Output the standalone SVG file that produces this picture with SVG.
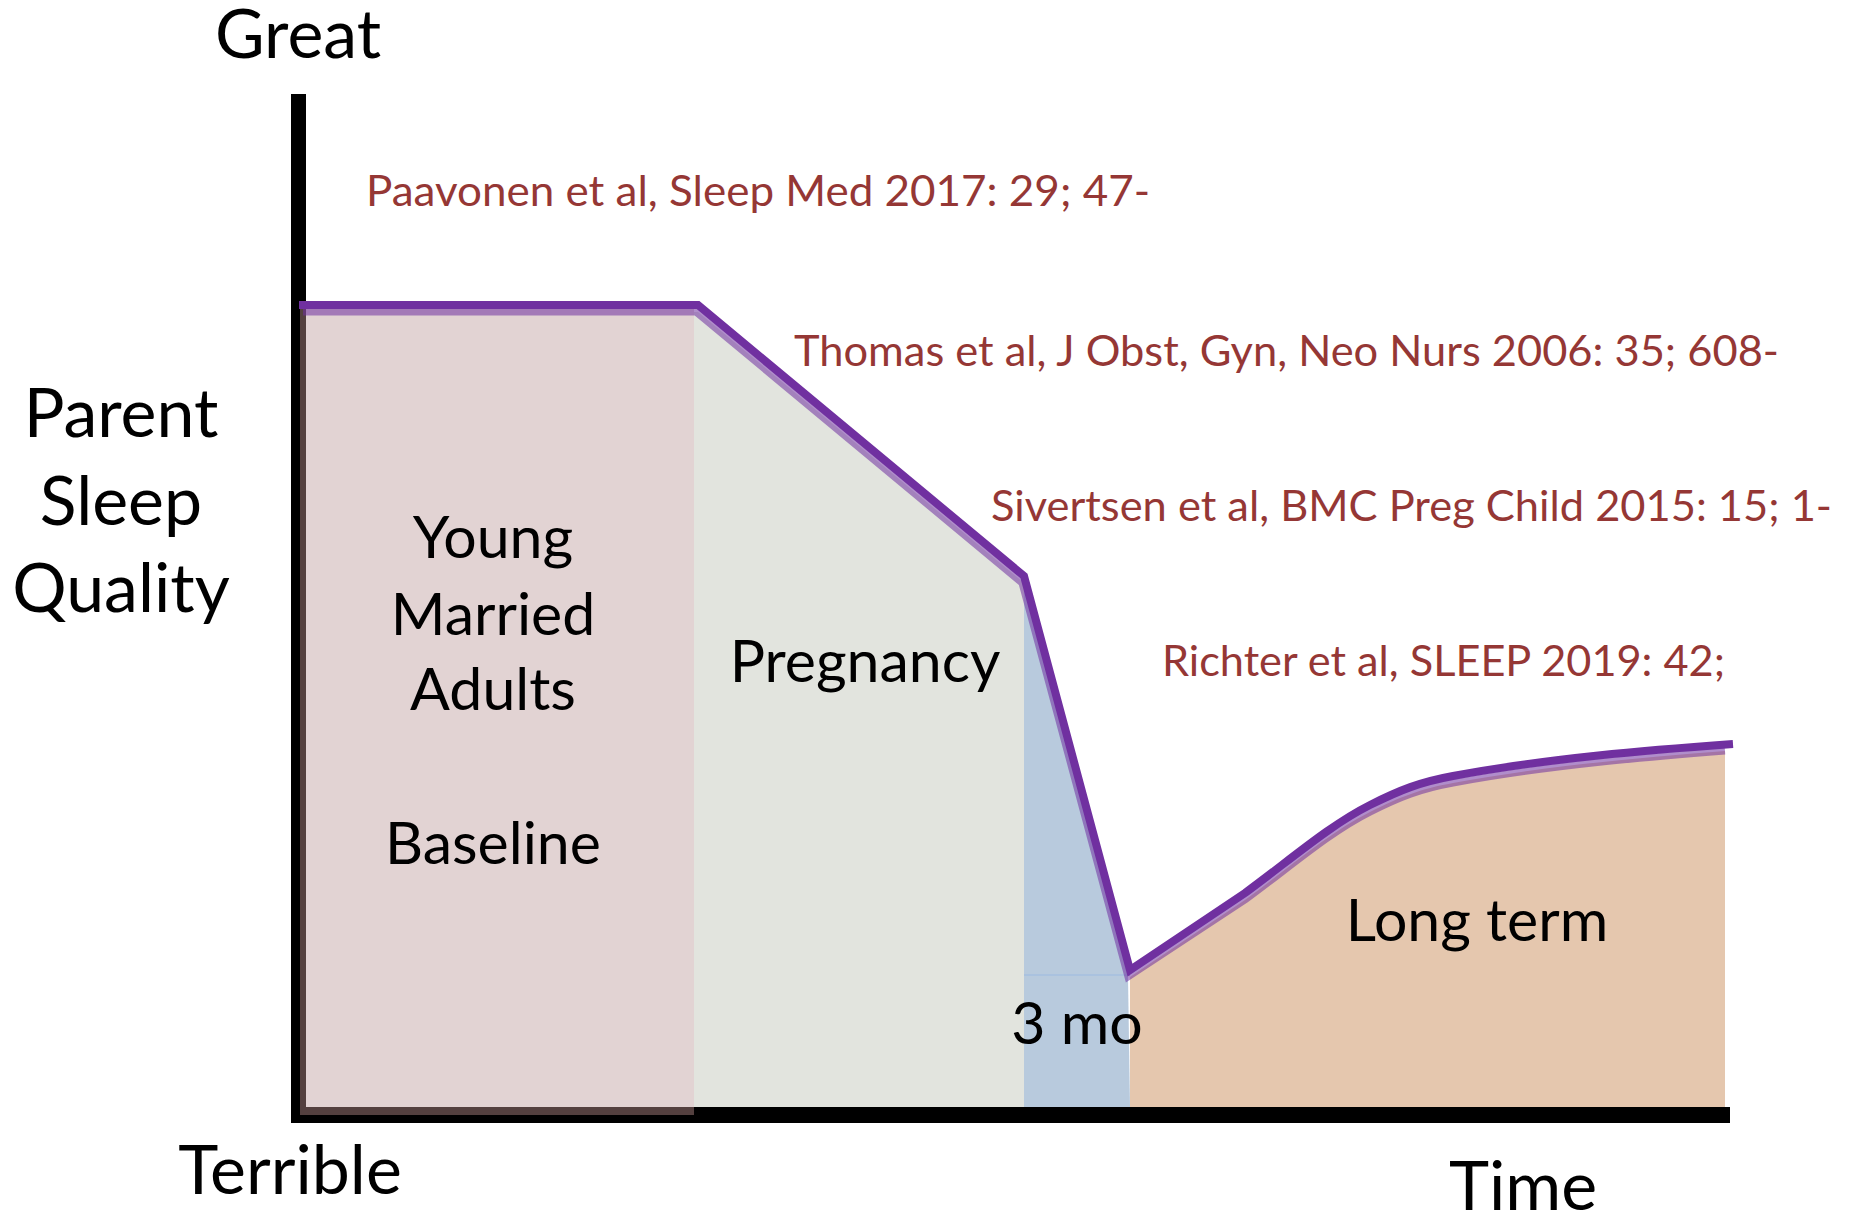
<svg xmlns="http://www.w3.org/2000/svg" width="1850" height="1218" viewBox="0 0 1850 1218">
  <style>
    .lbl { font-family: Lato, "Open Sans", sans-serif; fill: #000; text-anchor: middle; }
    .big { font-size: 68px; }
    .mid { font-size: 59px; }
    .cite { font-family: Lato, "Open Sans", sans-serif; font-size: 42px; fill: #953735; }
    .line { fill: none; stroke: #7030a0; stroke-width: 8; stroke-linejoin: miter; }
    .edge { fill: none; stroke: #7030a0; stroke-opacity: 0.55; stroke-width: 7; }
  </style>
  <rect width="1850" height="1218" fill="#ffffff"/>

  <!-- axes -->
  <g id="axes">
    <rect x="291" y="94" width="15" height="1029" fill="#000"/>
    <rect x="291" y="1107" width="1439" height="16" fill="#000"/>
  </g>

  <!-- phase regions -->
  <g id="baseline">
    <rect x="303" y="309" width="391" height="800" fill="#e2d3d3"/>
    <rect x="300" y="309" width="6" height="806" fill="#54403f"/>
    <rect x="300" y="1107" width="394" height="8" fill="#54403f"/>
    <text class="lbl mid" x="493" y="558">Young</text>
    <text class="lbl mid" x="493" y="635">Married</text>
    <text class="lbl mid" x="493" y="710">Adults</text>
    <text class="lbl mid" x="493" y="864">Baseline</text>
  </g>
  <g id="pregnancy">
    <polygon points="694,312 698,312 1024,583 1024,1107 694,1107" fill="#e2e4de"/>
    <text class="lbl mid" x="865" y="682">Pregnancy</text>
  </g>
  <g id="long-term">
    <path d="M1130,977 L1245,900 C1290,867 1330,832 1370,812 C1400,797 1420,789 1453,783 C1550,765 1650,757 1725,751 L1725,1107 L1130,1107 Z" fill="#e5c7ae"/>
    <text class="lbl mid" x="1477" y="941">Long term</text>
  </g>
  <g id="three-months">
    <polygon points="1024,583 1128,976 1130,1107 1024,1107" fill="#b8cadd"/>
    <line x1="1024" y1="975" x2="1130" y2="975" stroke="#a6bfdf" stroke-width="1.5"/>
    <text class="lbl mid" x="1077" y="1044">3 mo</text>
  </g>

  <!-- connectors: sleep quality curve -->
  <g id="connectors">
    <path class="edge" d="M303,312 L696,312 L1022,583 L1128,977 L1245,900 C1290,867 1330,832 1370,812 C1400,797 1420,789 1453,783 C1550,765 1650,757 1725,751"/>
    <path class="line" d="M299,305 L698,305 L1024,576 L1130,970 L1245,893 C1290,860 1330,825 1370,805 C1400,790 1420,782 1453,776 C1550,758 1650,750 1733,744"/>
  </g>

  <!-- axis labels -->
  <g id="axis-labels">
    <text class="lbl big" x="298" y="58">Great</text>
    <text class="lbl big" x="121" y="437">Parent</text>
    <text class="lbl big" x="121" y="525">Sleep</text>
    <text class="lbl big" x="121" y="612">Quality</text>
    <text class="lbl big" x="290" y="1194">Terrible</text>
    <text class="lbl big" x="1523" y="1210">Time</text>
  </g>

  <!-- citations -->
  <g id="citations">
    <text class="cite" x="366" y="206" textLength="784" lengthAdjust="spacingAndGlyphs">Paavonen et al, Sleep Med 2017: 29; 47-</text>
    <text class="cite" x="794" y="366" textLength="985" lengthAdjust="spacingAndGlyphs">Thomas et al, J Obst, Gyn, Neo Nurs 2006: 35; 608-</text>
    <text class="cite" x="991" y="521" textLength="841" lengthAdjust="spacingAndGlyphs">Sivertsen et al, BMC Preg Child 2015: 15; 1-</text>
    <text class="cite" x="1162" y="676" textLength="563" lengthAdjust="spacingAndGlyphs">Richter et al, SLEEP 2019: 42;</text>
  </g>
</svg>
